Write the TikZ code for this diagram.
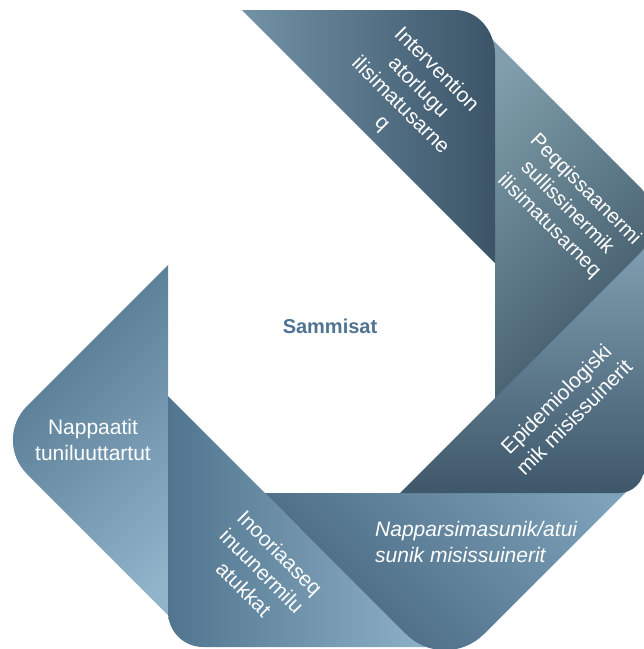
\documentclass[tikz,border=0pt]{standalone}
\usepackage{fontspec}
\setmainfont{Liberation Sans}
\definecolor{sAl}{HTML}{7292A6}\definecolor{sAd}{HTML}{3B5468}
\definecolor{sBl}{HTML}{809EAB}\definecolor{sBd}{HTML}{3E5766}
\definecolor{sCl}{HTML}{809EB1}\definecolor{sCd}{HTML}{3E576B}
\definecolor{sDl}{HTML}{7DA2BA}\definecolor{sDd}{HTML}{46657E}
\definecolor{sEl}{HTML}{90B4CA}\definecolor{sEd}{HTML}{52758F}
\definecolor{sFl}{HTML}{90B4CA}\definecolor{sFd}{HTML}{52758F}
\definecolor{ctrblue}{HTML}{4F7393}
\begin{document}
\begin{tikzpicture}[x=1pt,y=-1pt,
  lbl/.style={text=white, font=\fontsize{21}{25.5}\selectfont, align=center, inner sep=0pt}]
\useasboundingbox (0,0) rectangle (644,649);
\clip (0,0) rectangle (644,649);
% shape 6 (left)
\shade[top color=sFd, bottom color=sFl, shading angle=45]
  (168,265) -- (26.94,406.06) .. controls (8.19,424.81) and (8.19,455.19) .. (26.94,473.94)
  -- (190,637) -- (190,430) -- (168,430) -- cycle;
% shape 5 (bottom left)
\shade[top color=sEl, bottom color=sEd, shading angle=-90]
  (168,396) -- (300,528) -- (440,600) -- (440,647) -- (203,647)
  .. controls (183.7,647) and (168,631.3) .. (168,612) -- cycle;
% shape 4 (bottom)
\shade[top color=sDl, bottom color=sDd, shading angle=-45]
  (265,493) -- (412,493) -- (440,465) -- (653,465) -- (483.89,634.11)
  .. controls (462.41,655.59) and (427.59,655.59) .. (406.11,634.11) -- cycle;
% shape 3 (bottom right)
\shade[top color=sCl, bottom color=sCd]
  (400,493) -- (495,398) -- (498,393) -- (644,245) -- (644,468)
  .. controls (644,481.8) and (632.8,493) .. (619,493) -- cycle;
% shape 2 (right)
\shade[top color=sBl, bottom color=sBd, shading angle=45]
  (470,17) -- (639.06,186.06) .. controls (657.8,204.8) and (657.8,235.2) .. (639.06,253.94)
  -- (495,398) -- (495,230) -- (470,230) -- cycle;
% shape 1 (top)
\shade[top color=sAl, bottom color=sAd, shading angle=90]
  (242,10) -- (455,10) .. controls (477.1,10) and (495,30.1) .. (495,55) -- (495,263) -- cycle;
% texts
\node[lbl, rotate=-45] (t1) at (409,97) {Intervention\\atorlugu\\ilisimatusarne\\q};
\node[lbl, rotate=-45, font=\fontsize{20.5}{25.5}\selectfont] (t2) at (567,208) {Peqqissaanermi\\sullissinermik\\ilisimatusarneq};
\node[lbl, rotate=45] (t3) at (565,408) {Epidemiologiski\\mik misissuinerit};
\node[lbl, align=left, anchor=west, font=\fontsize{21}{25.5}\selectfont\itshape] (t4) at (375,542) {Napparsimasunik/atui\\sunik misissuinerit};
\node[lbl, rotate=-45] (t5) at (262,571) {Inooriaaseq\\inuunermilu\\atukkat};
\node[lbl] (t6) at (93,440) {Nappaatit\\tuniluuttartut};
\node[font=\bfseries\fontsize{20}{24}\selectfont, text=ctrblue, inner sep=0pt] (ctr) at (330,326) {Sammisat};
\end{tikzpicture}
\end{document}
